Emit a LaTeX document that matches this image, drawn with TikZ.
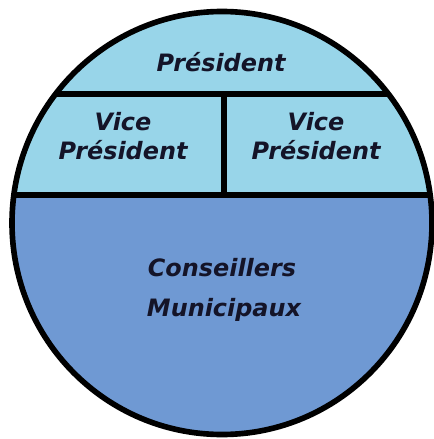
\documentclass[tikz,border=0pt]{standalone}
\usepackage{fontspec}
\setmainfont{DejaVu Sans}
\definecolor{lightblue}{RGB}{152,213,233}
\definecolor{darkblue}{RGB}{111,153,211}
\definecolor{txt}{RGB}{20,20,40}
\begin{document}
\begin{tikzpicture}[x=0.025cm,y=-0.025cm,
  outline/.style={line width=4pt,black},
  lbl/.style={font=\fontsize{17}{21}\selectfont\bfseries\itshape,text=txt,align=center,inner sep=0pt}]
\useasboundingbox (0,0) rectangle (433,439);
\coordinate (c) at (222,223);
\fill[darkblue] (c) ellipse [x radius=210, y radius=211.5];
\begin{scope}
  \clip (c) ellipse [x radius=210, y radius=211.5];
  \fill[lightblue] (0,0) rectangle (440,195);
  \coordinate (h1l) at (0,94);
  \coordinate (h1r) at (440,94);
  \coordinate (h2l) at (0,195);
  \coordinate (h2r) at (440,195);
  \coordinate (vt) at (224,94);
  \coordinate (vb) at (224,195);
  \draw[outline] (h1l) -- (h1r);
  \draw[outline] (h2l) -- (h2r);
  \draw[outline] (vt) -- (vb);
\end{scope}
\draw[outline] (c) ellipse [x radius=210, y radius=211.5];
\node[lbl] (pres) at (221,62) {Président};
\node[lbl] (vp1) at (123,136) {Vice\\Président};
\node[lbl] (vp2) at (316,136) {Vice\\Président};
\node[lbl] (cm1) at (222,268) {Conseillers};
\node[lbl] (cm2) at (224,310) {Municipaux};
\end{tikzpicture}
\end{document}
